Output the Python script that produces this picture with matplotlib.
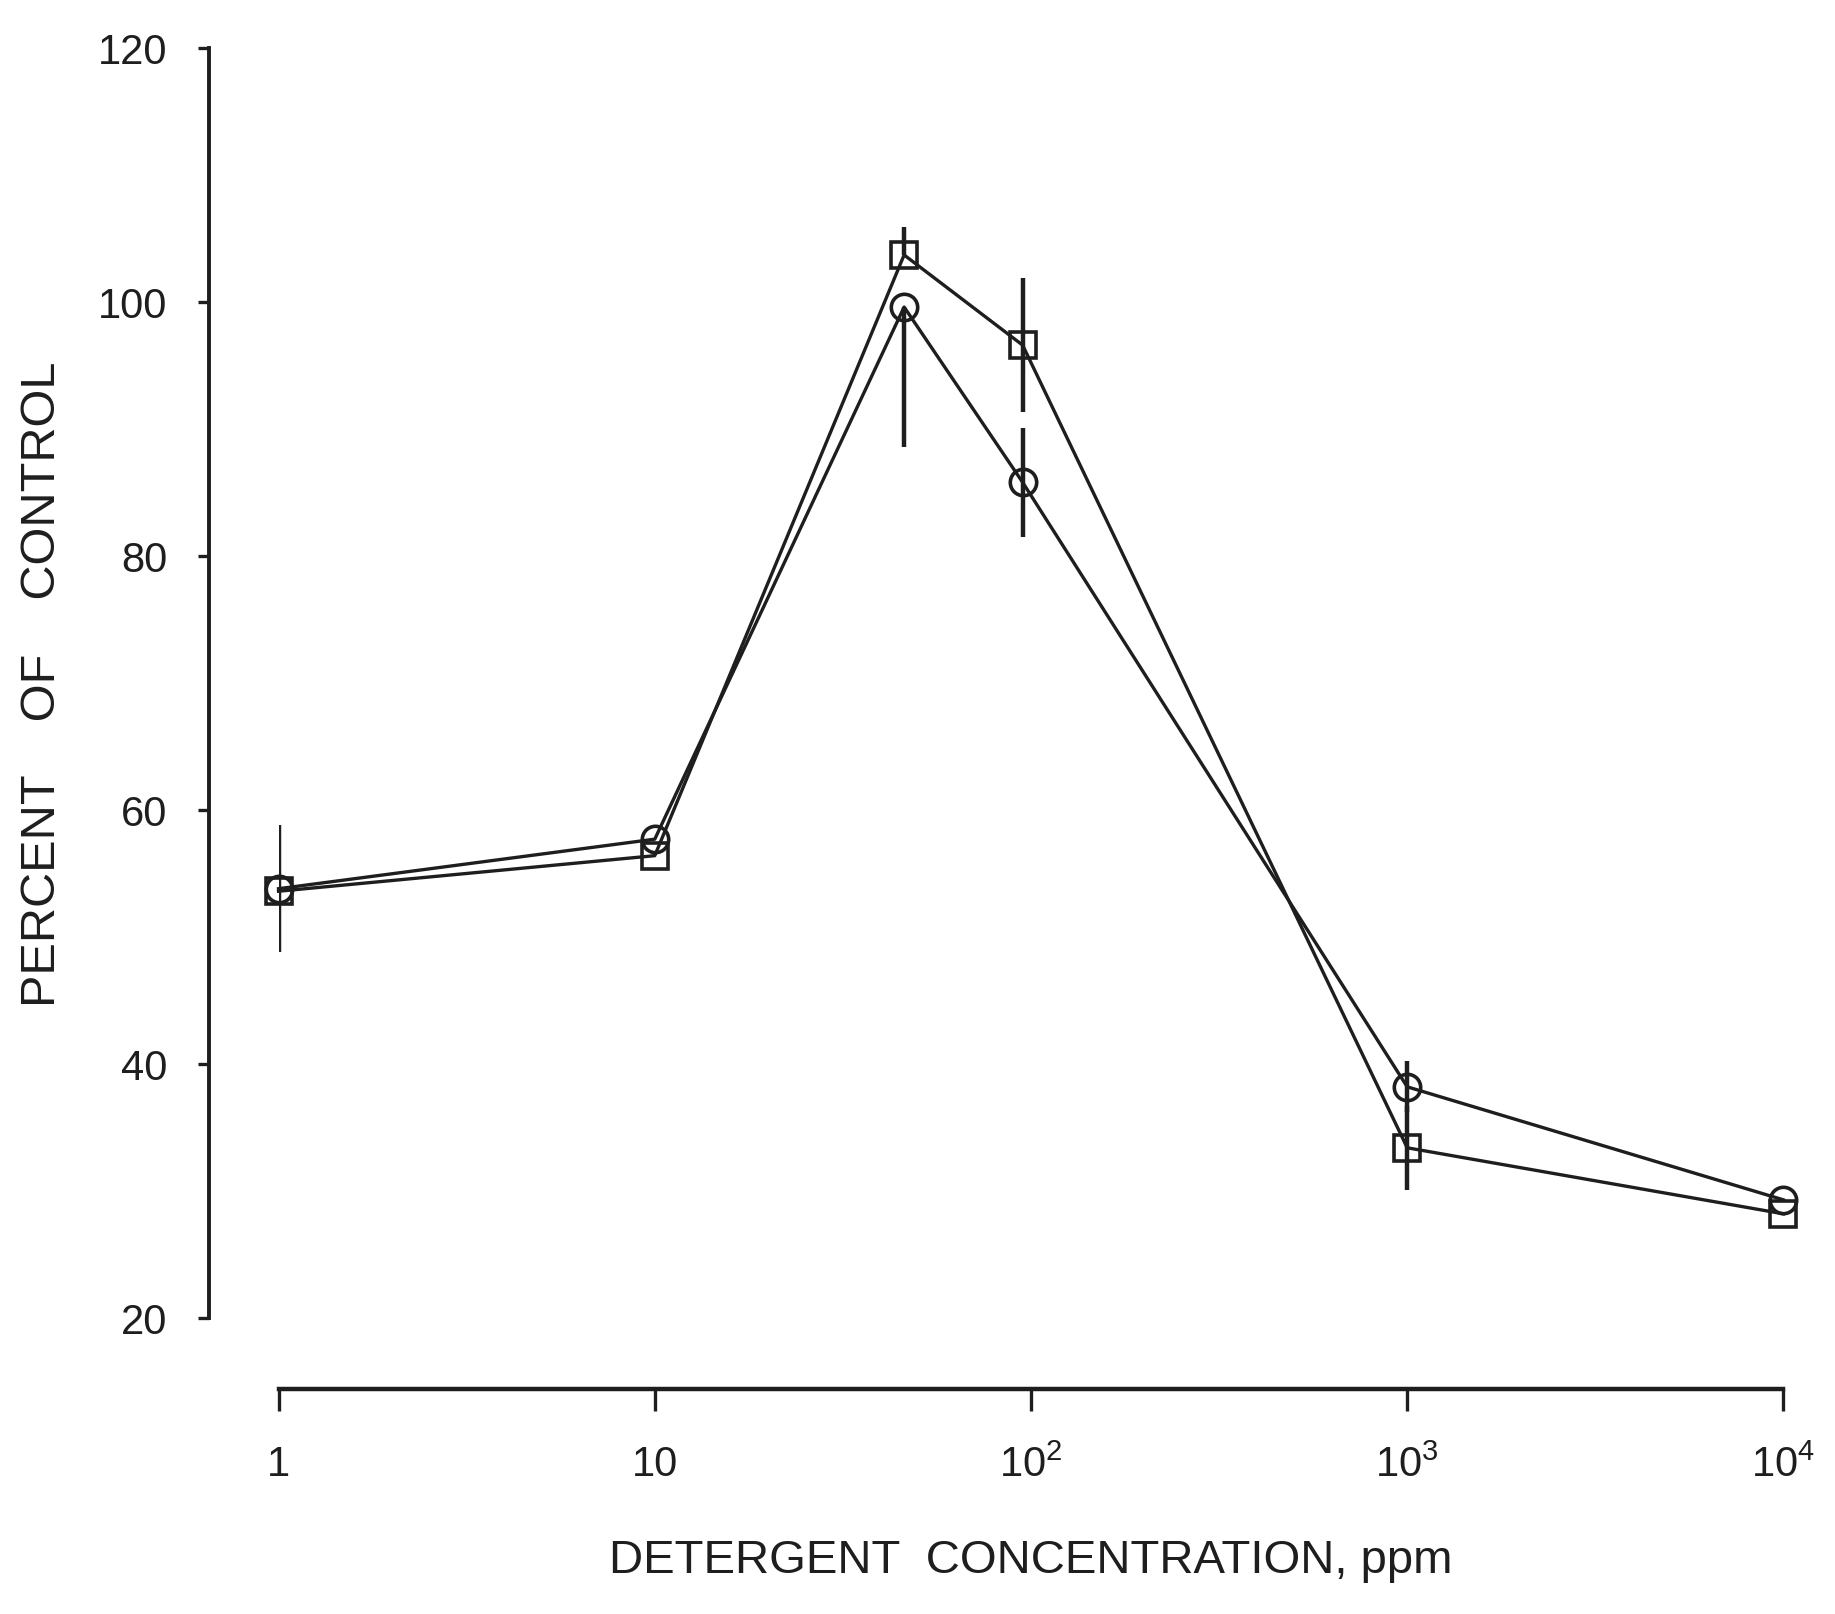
import numpy as np
import matplotlib
matplotlib.use("Agg")
import matplotlib.pyplot as plt

plt.rcParams['font.family'] = ['Liberation Sans', 'DejaVu Sans']
plt.rcParams['mathtext.fontset'] = 'custom'
plt.rcParams['mathtext.rm'] = 'Liberation Sans'

# ----- data -----
conc = [1, 10, 46, 95, 1000, 10000]
circle_pct = [53.8, 57.7, 99.6, 85.8, 38.2, 29.3]
circle_err_lo = [5.0, 0.0, 11.0, 4.3, 2.0, 0.0]
circle_err_hi = [5.0, 0.0, 0.0, 4.3, 2.0, 0.0]
square_pct = [53.6, 56.4, 103.7, 96.6, 33.4, 28.2]
square_err_lo = [0.0, 0.0, 0.0, 5.3, 3.3, 0.0]
square_err_hi = [0.0, 0.0, 2.2, 5.3, 3.3, 0.0]

x_ticks = [1, 10, 100, 1000, 10000]
x_ticklabels = ["1", "10", "10$^\\mathregular{2}$", "10$^\\mathregular{3}$", "10$^\\mathregular{4}$"]
y_ticks = [20, 40, 60, 80, 100, 120]

ink = '#1e1e1e'

fig = plt.figure(figsize=(18.35, 16.15), dpi=100)
ax = fig.add_axes([0.1518, 0.1833, 0.8201, 0.7864])

ax.errorbar(conc, circle_pct, yerr=[circle_err_lo, circle_err_hi], fmt='none',
            ecolor=ink, elinewidth=3.2, capsize=0)
ax.errorbar(conc, square_pct, yerr=[square_err_lo, square_err_hi], fmt='none',
            ecolor=ink, elinewidth=3.2, capsize=0)
ax.plot(conc, circle_pct, '-o', color=ink, lw=2.4, ms=19, mfc='none', mew=2.6,
        clip_on=False)
ax.plot(conc, square_pct, '-s', color=ink, lw=2.4, ms=19, mfc='none', mew=2.6,
        clip_on=False)

ax.set_xscale('log')
ax.set_xlim(1, 10000)
ax.set_ylim(20, 120)
ax.minorticks_off()

for s in ['top', 'right']:
    ax.spines[s].set_visible(False)
ax.spines['left'].set_position(('outward', 50))
ax.spines['bottom'].set_position(('outward', 51))
ax.spines['left'].set_linewidth(2.8)
ax.spines['bottom'].set_linewidth(3.2)
ax.spines['left'].set_color(ink)
ax.spines['bottom'].set_color(ink)

ax.set_xticks(x_ticks)
ax.set_xticklabels(x_ticklabels)
ax.set_yticks(y_ticks)
ax.tick_params(axis='y', direction='out', length=8, width=2.4, colors=ink,
               labelsize=30, pad=22)
ax.tick_params(axis='x', direction='out', length=16, width=2.4, colors=ink,
               labelsize=30, pad=24)

ylab = "    ".join(["PERCENT", "OF", "CONTROL"])
xlab = "DETERGENT  CONCENTRATION, ppm"
ax.set_ylabel(ylab, fontsize=35, color=ink, labelpad=24)
ax.set_xlabel(xlab, fontsize=34, color=ink, labelpad=38)

fig.savefig("out.png", dpi=100, facecolor='white')
